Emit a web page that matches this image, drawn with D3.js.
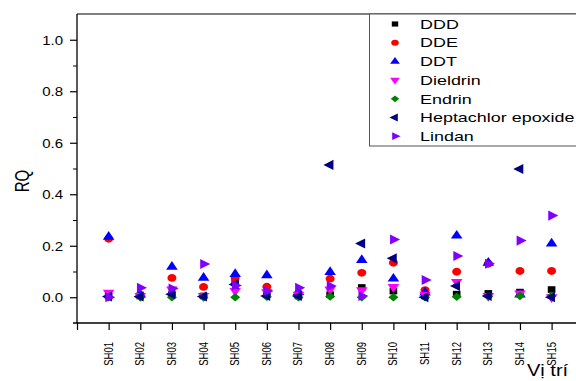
<!DOCTYPE html>
<html>
<head>
<meta charset="utf-8">
<script src="https://cdn.jsdelivr.net/npm/d3@7"></script>
<style>
body { margin: 0; background: #fff; }
text { font-family: "Liberation Sans", Arial, sans-serif; fill: #000; }
</style>
</head>
<body>
<svg id="viz" width="576" height="381"></svg>
<script>
var sites = ['SH01','SH02','SH03','SH04','SH05','SH06','SH07','SH08','SH09','SH10','SH11','SH12','SH13','SH14','SH15'];
var yTicks = [0, 0.2, 0.4, 0.6, 0.8, 1.0];

var ddd       = [0.005, 0.005, 0.01, 0.005, 0.063, 0.01, 0.005, 0.01, 0.038, 0.024, 0.005, 0.012, 0.015, 0.02, 0.03];
var dde       = [0.227, 0.01, 0.075, 0.04, 0.075, 0.041, 0.015, 0.072, 0.095, 0.134, 0.028, 0.099, 0.13, 0.102, 0.102];
var ddt       = [0.235, 0.01, 0.118, 0.075, 0.09, 0.085, 0.02, 0.098, 0.144, 0.072, 0.018, 0.239, 0.134, 0.01, 0.208];
var dieldrin  = [0.018, 0.005, 0.03, 0.005, 0.025, 0.02, 0.01, 0.03, 0.028, 0.04, 0.01, 0.06, 0.005, 0.015, 0.0];
var endrin    = [0.0, 0.0, 0.0, 0.0, 0.0, 0.002, 0.0, 0.003, 0.0, 0.0, 0.0, 0.002, 0.003, 0.005, 0.005];
var heptachlor= [0.003, 0.003, 0.012, 0.003, 0.05, 0.005, 0.005, 0.514, 0.209, 0.151, 0.0, 0.044, 0.005, 0.498, 0.0];
var lindan    = [0.0, 0.037, 0.034, 0.129, 0.046, 0.024, 0.037, 0.044, 0.005, 0.224, 0.067, 0.16, 0.13, 0.22, 0.317];

var series = [
  {name: 'DDD', values: ddd, color: '#000000', shape: d3.symbolSquare, rot: 0, size: 44},
  {name: 'DDE', values: dde, color: '#ff0000', shape: d3.symbolCircle, rot: 0, size: 48},
  {name: 'DDT', values: ddt, color: '#0000ff', shape: d3.symbolTriangle, rot: 0, size: 44},
  {name: 'Dieldrin', values: dieldrin, color: '#ff00ff', shape: d3.symbolTriangle, rot: 180, size: 44},
  {name: 'Endrin', values: endrin, color: '#008000', shape: d3.symbolSquare, rot: 45, size: 38},
  {name: 'Heptachlor epoxide', values: heptachlor, color: '#000080', shape: d3.symbolTriangle, rot: -90, size: 44},
  {name: 'Lindan', values: lindan, color: '#8000ff', shape: d3.symbolTriangle, rot: 90, size: 44}
];

var sx = 1.38; // picture is stretched sideways
var plotLeft = 77, plotTop = 14, plotBottom = 323;
var svg = d3.select('#viz');

var x = d3.scaleLinear().domain([0, 1]).range([plotLeft, plotLeft + 31.64]);
var y = d3.scaleLinear().domain([-0.1, 1.1]).range([plotBottom, plotTop]);

// top frame line
svg.append('line').attr('x1', plotLeft).attr('x2', 576).attr('y1', plotTop).attr('y2', plotTop)
  .attr('stroke', '#000').attr('stroke-width', 1);

// y axis
var yAxis = d3.axisLeft(y).tickValues(yTicks).tickSize(7).tickFormat(d3.format('.1f'));
var gy = svg.append('g').attr('transform', 'translate(' + plotLeft + ',0)').call(yAxis);
gy.select('.domain').attr('d', 'M0,' + plotTop + 'V' + plotBottom).attr('stroke-width', 1.3);
gy.selectAll('.tick line').attr('stroke-width', 1.2);
gy.selectAll('.tick text').attr('x', null).attr('dy', null)
  .attr('transform', 'translate(-14,4.3) scale(1.25,1)')
  .attr('font-size', 12).attr('text-anchor', 'end').attr('fill', '#222');
var gym = svg.append('g').attr('transform', 'translate(' + plotLeft + ',0)')
  .call(d3.axisLeft(y).tickValues([0.1, 0.3, 0.5, 0.7, 0.9]).tickSize(4).tickFormat(''));
gym.select('.domain').remove();

// x axis
var xIdx = d3.range(0, 16);
var gx = svg.append('g').attr('transform', 'translate(0,' + plotBottom + ')')
  .call(d3.axisBottom(x).tickValues(xIdx).tickSize(7).tickFormat(function(d) { return d >= 1 ? sites[d - 1] : ''; }));
gx.select('.domain').attr('d', 'M' + (plotLeft - 4) + ',0H576').attr('stroke-width', 1.3);
gx.selectAll('.tick line').attr('stroke-width', 1.2);
gx.selectAll('.tick text').attr('y', null).attr('dy', null)
  .attr('text-anchor', 'end').attr('font-size', 9.5).attr('fill', '#222')
  .attr('transform', 'translate(3.5,19) scale(' + sx + ',1) rotate(-90)');

// axis titles
svg.append('text').attr('transform', 'translate(29,181) scale(1.3,1) rotate(-90)')
  .attr('text-anchor', 'middle').attr('font-size', 15).text('RQ');
svg.append('text').attr('transform', 'translate(527,376) scale(1.25,1)')
  .attr('font-size', 16).text('Vị trí');

// points
var sym = d3.symbol();
series.forEach(function(s) {
  svg.append('g').selectAll('path').data(s.values).enter().append('path')
    .attr('d', sym.type(s.shape).size(s.size)())
    .attr('transform', function(d, i) {
      return 'translate(' + x(i + 1) + ',' + y(d) + ') scale(1.15,1) rotate(' + s.rot + ')';
    })
    .attr('fill', s.color);
});

// legend
var lg = svg.append('g');
lg.append('rect').attr('x', 369.5).attr('y', plotTop).attr('width', 220).attr('height', 132)
  .attr('fill', '#fff').attr('stroke', '#555').attr('stroke-width', 1);
series.forEach(function(s, i) {
  var yy = 24 + i * 18.7;
  lg.append('path').attr('d', d3.symbol().type(s.shape).size(s.size * 0.6)())
    .attr('transform', 'translate(395,' + yy + ') scale(1.25,1) rotate(' + s.rot + ')')
    .attr('fill', s.color);
  lg.append('text').attr('transform', 'translate(420,' + (yy + 4.7) + ') scale(' + sx + ',1)')
    .attr('font-size', 13).text(s.name);
});
</script>
</body>
</html>
